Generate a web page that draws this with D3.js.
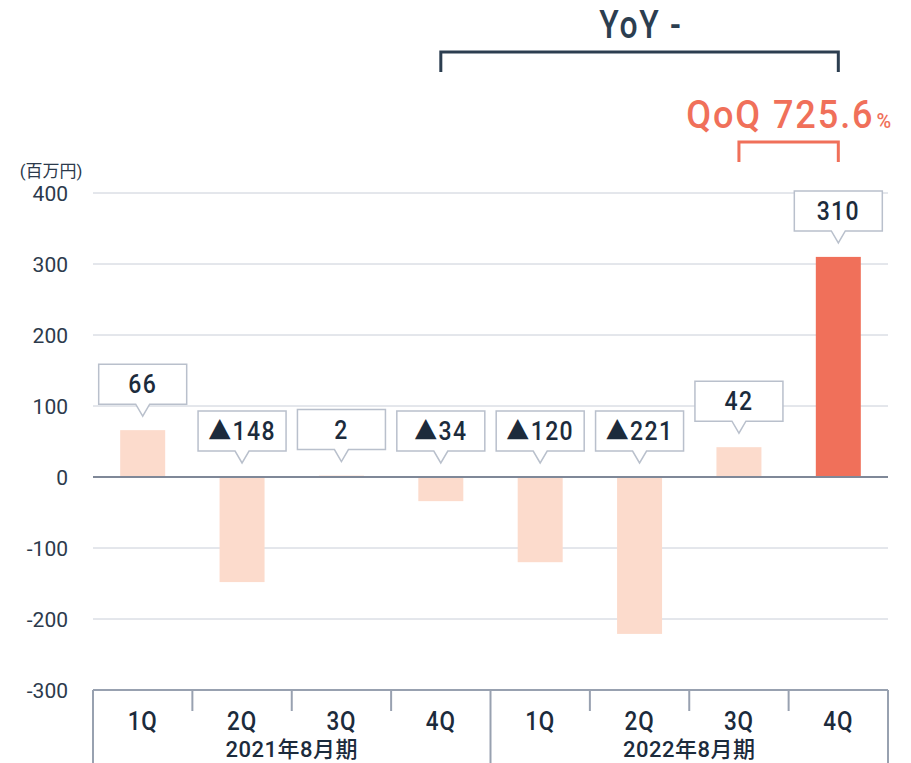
<!DOCTYPE html>
<html><head><meta charset="utf-8">
<script src="https://cdn.jsdelivr.net/npm/d3@7"></script>
<style>body{margin:0;background:#fff}svg{display:block}</style>
</head><body>
<svg id="c" width="911" height="763"></svg>
<script>
const quarters = ["1Q","2Q","3Q","4Q","1Q","2Q","3Q","4Q"];
const years = ["2021年8月期","2022年8月期"];
const values = [66,-148,2,-34,-120,-221,42,310];
const highlight = [false,false,false,false,false,false,false,true];
const yTicks = [400,300,200,100,0,-100,-200,-300];
const unitLabel = "(百万円)";
const yoyLabel = "YoY -";
const qoqLabel = "QoQ 725.6";

(function(){
const svg = d3.select("#c");
const font = "Roboto, 'Noto Sans CJK JP', sans-serif";
const navy = "#1c2b3c";
const pL = 93, pR = 888, pT = 193, pB = 690;
const x = d3.scaleBand().domain(d3.range(values.length)).range([pL,pR]).paddingInner(0).paddingOuter(0);
const y = d3.scaleLinear().domain([-300,400]).range([pB,pT]);

// gridlines
svg.append("g").selectAll("line").data(yTicks.filter(d=>d!==0 && d!==-300)).join("line")
  .attr("x1",pL).attr("x2",pR).attr("y1",d=>y(d)).attr("y2",d=>y(d))
  .attr("stroke","#c9ced8").attr("stroke-width",1);

// y tick labels
svg.append("g").selectAll("text").data(yTicks).join("text")
  .attr("x",68).attr("y",d=>y(d)).attr("dy","0.36em").attr("text-anchor","end")
  .attr("font-family",font).attr("font-size",21).attr("fill","#2c3a4c").text(d=>d);
svg.append("text").attr("x",51).attr("y",177).attr("text-anchor","middle")
  .attr("font-family",font).attr("font-size",17).attr("fill","#2c3a4c").text(unitLabel);

// bars
const bw = 45;
svg.append("g").selectAll("rect").data(values).join("rect")
  .attr("x",(d,i)=>x(i)+x.bandwidth()/2-bw/2).attr("width",bw)
  .attr("y",d=>y(Math.max(d,0))).attr("height",d=>Math.abs(y(d)-y(0)))
  .attr("fill",(d,i)=>highlight[i]?"#f0705a":"#fcdbcc");

// zero line
svg.append("line").attr("x1",pL).attr("x2",pR).attr("y1",y(0)).attr("y2",y(0))
  .attr("stroke","#7f8898").attr("stroke-width",2);

// bottom axis box
const axisCol = "#98a1b0";
const g = svg.append("g");
g.append("line").attr("x1",pL).attr("x2",pR).attr("y1",pB).attr("y2",pB).attr("stroke",axisCol).attr("stroke-width",2);
[pL,x(4),pR].forEach(v=>g.append("line").attr("x1",v).attr("x2",v).attr("y1",pB).attr("y2",763).attr("stroke",axisCol).attr("stroke-width",2));
[1,2,3,5,6,7].forEach(i=>g.append("line").attr("x1",x(i)).attr("x2",x(i)).attr("y1",pB).attr("y2",711).attr("stroke",axisCol).attr("stroke-width",2));
g.selectAll("text.q").data(quarters).join("text").attr("class","q")
  .attr("transform",(d,i)=>`translate(${x(i)+x.bandwidth()/2},730) scale(0.9,1)`).attr("text-anchor","middle")
  .attr("font-family",font).attr("font-size",25).attr("font-weight",500).attr("fill",navy).attr("letter-spacing",1).text(d=>d);
g.selectAll("text.yr").data(years).join("text").attr("class","yr")
  .attr("transform",(d,i)=>`translate(${x(i*4+2)},757)`).attr("text-anchor","middle")
  .attr("font-family",font).attr("font-size",22).attr("font-weight",500).attr("fill",navy).attr("letter-spacing",0.5).text(d=>d);

// callouts
const cw = 88, ch = 40, ph = 12, pw = 7;
const cg = svg.append("g").selectAll("g").data(values).join("g")
  .attr("transform",(d,i)=>`translate(${x(i)+x.bandwidth()/2},${y(Math.max(d,0))-14})`);
cg.append("path").attr("d",`M0,0 L${-pw},${-ph} L${-cw/2},${-ph} L${-cw/2},${-ph-ch} L${cw/2},${-ph-ch} L${cw/2},${-ph} L${pw},${-ph} Z`)
  .attr("fill","#fff").attr("stroke","#b9c0cc").attr("stroke-width",1.5);
cg.append("text").attr("transform",`translate(0,${-ph-ch/2}) scale(0.92,1)`).attr("dy","0.36em").attr("text-anchor","middle")
  .attr("font-family",font).attr("font-size",25).attr("font-weight",500).attr("fill",navy).attr("letter-spacing",1.5)
  .text(d=>d<0?"▲"+Math.abs(d):d);

// YoY bracket
const yoyCol = "#2c3e50";
const bx1 = x(3)+x.bandwidth()/2, bx2 = x(7)+x.bandwidth()/2;
svg.append("path").attr("d",`M${bx1},72 L${bx1},52 L${bx2},52 L${bx2},72`).attr("fill","none").attr("stroke",yoyCol).attr("stroke-width",3);
svg.append("text").attr("transform",`translate(641,38) scale(0.84,1)`).attr("text-anchor","middle")
  .attr("font-family",font).attr("font-size",38).attr("font-weight",500).attr("fill",yoyCol).attr("letter-spacing",2).text(yoyLabel);

// QoQ bracket
const qCol = "#f0705a";
const qx1 = x(6)+x.bandwidth()/2;
svg.append("path").attr("d",`M${qx1},162 L${qx1},142 L${bx2},142 L${bx2},162`).attr("fill","none").attr("stroke",qCol).attr("stroke-width",3);
const qt = svg.append("text").attr("transform","translate(893,128) scale(0.95,1)").attr("text-anchor","end")
  .attr("font-family",font).attr("font-weight",500).attr("fill",qCol).attr("letter-spacing",2);
qt.append("tspan").attr("font-size",38).text(qoqLabel);
qt.append("tspan").attr("font-size",21).attr("dx",2).text("%");
})();
</script>
</body></html>
